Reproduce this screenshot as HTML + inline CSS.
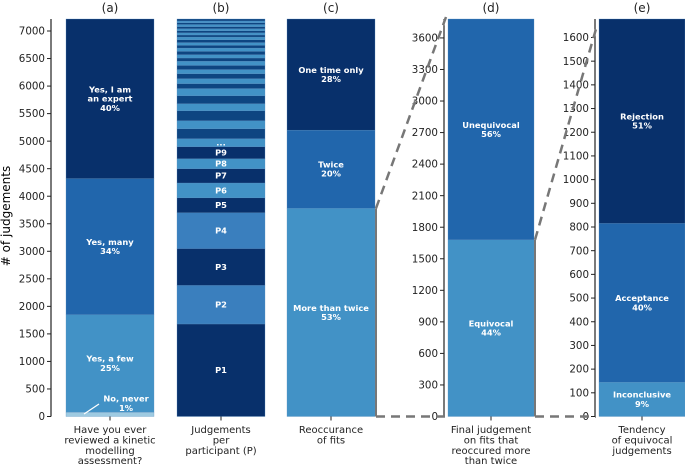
<!DOCTYPE html>
<html><head><meta charset="utf-8">
<style>
html,body{margin:0;padding:0;background:#fff;}
svg{display:block;font-family:"DejaVu Sans","Liberation Sans",sans-serif;}
</style></head>
<body>
<svg id="chart" width="685" height="464" viewBox="0 0 685 464" xmlns="http://www.w3.org/2000/svg">
<text x="10" y="216" font-size="12" text-anchor="middle" transform="rotate(-90 10 216)"># of judgements</text>
</svg>
<script>
// ---- data ----
const totalJudgements = 7218;
const panelATicks = [0,500,1000,1500,2000,2500,3000,3500,4000,4500,5000,5500,6000,6500,7000];
const panelALabels = ["No, never\n1%","Yes, a few\n25%","Yes, many\n34%","Yes, I am\nan expert\n40%"];
const panelAValues = [80,1770,2470,2898];
const panelBLabels = ["P1","P2","P3","P4","P5","P6","P7","P8","P9","..."];
const panelBValues = [1680,700,670,650,270,270,260,180,220,145,180,145,180,130,145,130,90,90,90,75,75,75,60,60,60,60,50,50,50,50,38,38,38,38,38,38,32,32,36];
const panelCLabels = ["More than twice\n53%","Twice\n20%","One time only\n28%"];
const panelCValues = [3780,1420,2018];
const panelDTicks = [0,300,600,900,1200,1500,1800,2100,2400,2700,3000,3300,3600];
const panelDLabels = ["Equivocal\n44%","Unequivocal\n56%"];
const panelDValues = [1680,2100];
const panelETicks = [0,100,200,300,400,500,600,700,800,900,1000,1100,1200,1300,1400,1500,1600];
const panelELabels = ["Inconclusive\n9%","Acceptance\n40%","Rejection\n51%"];
const panelEValues = [145,670,863];

const svg = document.getElementById('chart');
const NS = 'http://www.w3.org/2000/svg';
const Y0 = 416.5, YTOP = 19;
function mk(tag, attrs){const e=document.createElementNS(NS,tag);for(const k in attrs)e.setAttribute(k,attrs[k]);svg.appendChild(e);return e;}
function scaleFor(max){return v=>Y0-(v/max)*(Y0-YTOP);}
const DARK='#08306b', MID='#2166ac', LIGHT='#4292c6', PALE='#9ecae1';

function text(x,y,str,size,color,weight,anchor){
  const lines=String(str).split('\n');
  const t=mk('text',{x:x,y:y-(lines.length-1)*size*0.55+size*0.35,'font-size':size,fill:color,'font-weight':weight||'normal','text-anchor':anchor||'middle'});
  lines.forEach((l,i)=>{const s=document.createElementNS(NS,'tspan');s.setAttribute('x',x);if(i>0)s.setAttribute('dy',size*1.1);s.textContent=l;t.appendChild(s);});
  return t;
}
function axis(spineX, ticks, sy, name){
  const l=mk('line',{x1:spineX,y1:YTOP,x2:spineX,y2:Y0,stroke:'#222','stroke-width':1.2});
  
  
  ticks.forEach(v=>{
    const y=sy(v);
    mk('line',{x1:spineX-4,y1:y,x2:spineX,y2:y,stroke:'#222','stroke-width':1});
    const t=text(spineX-6,y,String(v),10.3,'#222','normal','end');
    
    
  });
}
function stack(x,w,values,colors,sy,labels,name){
  let acc=0;
  values.forEach((v,i)=>{
    const y1=sy(acc), y2=sy(acc+v);
    const r=mk('rect',{x:x,y:y2,width:w,height:y1-y2,fill:colors[i],stroke:'#5a8fc0','stroke-width':0.3});
    
    
    if(labels&&labels[i]!=null){
      const t=text(x+w/2,(y1+y2)/2,labels[i],8.3,'#fff','bold');
      
      
    }
    acc+=v;
  });
}
function title(x,str){const t=text(x,8,str,12,'#222');}
function xlabel(x,str){mk('line',{x1:x,y1:Y0,x2:x,y2:Y0+4,stroke:'#222'});const lines=str.split('\n');const t=mk('text',{x:x,y:433,'font-size':10,fill:'#222','text-anchor':'middle'});lines.forEach((l,i)=>{const s=document.createElementNS(NS,'tspan');s.setAttribute('x',x);if(i>0)s.setAttribute('dy',10.4);s.textContent=l;t.appendChild(s);});}

// panel A
const sA=scaleFor(totalJudgements);
axis(51,panelATicks,sA,'panel-a');
stack(66,88,panelAValues,[PALE,LIGHT,MID,DARK],sA,[null,panelALabels[1],panelALabels[2],panelALabels[3]],'panel-a');
{const t=text(126,sA(240),panelALabels[0],8.3,'#fff','bold');
mk('line',{x1:84,y1:414,x2:99,y2:404,stroke:'#fff','stroke-width':1.2});}
title(110,'(a)'); xlabel(110,'Have you ever\nreviewed a kinetic\nmodelling\nassessment?');

// panel B
const bColors=panelBValues.map((v,i)=>i<9?(i%2===0?DARK:(i===5||i===7?LIGHT:'#3a7fbe')):(i%2===0?'#0e4581':LIGHT));
stack(177,88,panelBValues,bColors,sA,panelBLabels,'panel-b');
title(221,'(b)'); xlabel(221,'Judgements\nper\nparticipant (P)');

// panel C
stack(287,88,panelCValues,[LIGHT,MID,DARK],sA,panelCLabels,'panel-c');
title(331,'(c)'); xlabel(331,'Reoccurance\nof fits');

// panel D
const totalD=panelDValues.reduce((a,b)=>a+b,0);
const sD=scaleFor(totalD);
axis(444,panelDTicks,sD,'panel-d');
stack(448,86,panelDValues,[LIGHT,MID],sD,panelDLabels,'panel-d');
title(491,'(d)'); xlabel(491,'Final judgement\non fits that\nreoccured more\nthan twice');

// panel E
const totalE=panelEValues.reduce((a,b)=>a+b,0);
const sE=scaleFor(totalE);
axis(595,panelETicks,sE,'panel-e');
stack(599,86,panelEValues,[LIGHT,MID,DARK],sE,panelELabels,'panel-e');
title(642,'(e)'); xlabel(642,'Tendency\nof equivocal\njudgements');

// connectors
const dash={stroke:'#777','stroke-width':2.5,'stroke-dasharray':'9,6',fill:'none'};
const c1=mk('line',Object.assign({x1:376,y1:sA(panelCValues[0]),x2:446,y2:YTOP-2},dash));


const c2=mk('line',Object.assign({x1:376,y1:Y0,x2:446,y2:Y0},dash));


const c3=mk('line',Object.assign({x1:535,y1:sD(panelDValues[0]),x2:596,y2:YTOP+10},dash));


const c4=mk('line',Object.assign({x1:535,y1:Y0,x2:596,y2:Y0},dash));


mk('line',{x1:376,y1:sA(panelCValues[0]),x2:376,y2:Y0,stroke:'#777','stroke-width':2});
mk('line',{x1:535,y1:sD(panelDValues[0]),x2:535,y2:Y0,stroke:'#777','stroke-width':2});
</script>
</body></html>
